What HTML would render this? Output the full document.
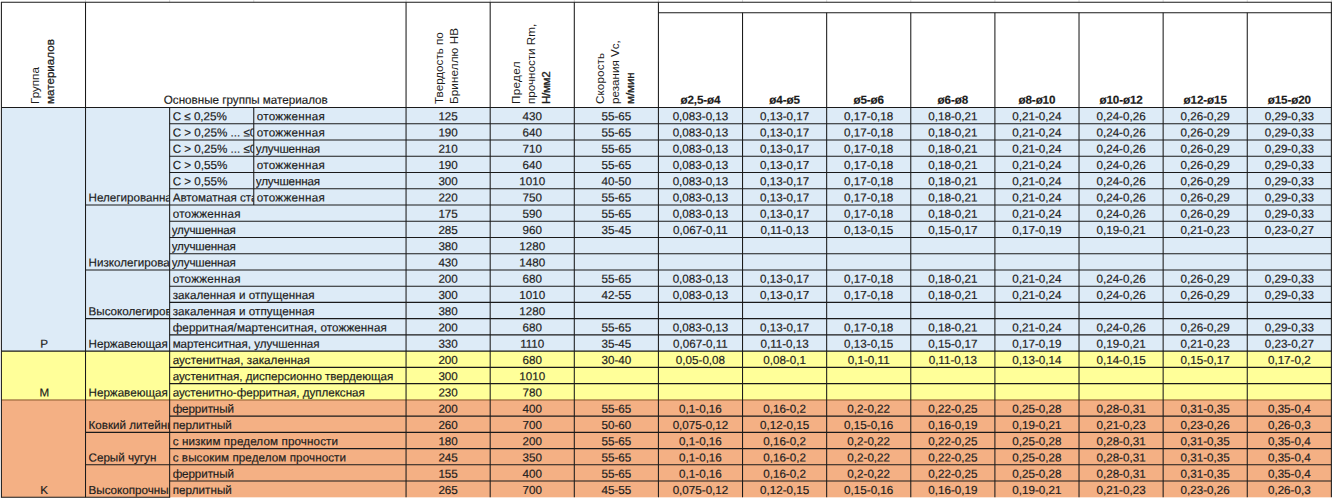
<!DOCTYPE html>
<html lang="ru"><head><meta charset="utf-8"><title>Таблица режимов резания</title>
<style>
html,body{margin:0;padding:0;background:#fff;}
body{width:1334px;height:499px;overflow:hidden;position:relative;font-family:"Liberation Sans",Arial,sans-serif;font-size:11.65px;color:#1c1c1c;}
svg{position:absolute;left:0;top:0;}
.c{position:absolute;left:0;top:0;-webkit-text-stroke:0.18px #1c1c1c;transform-origin:0 0;white-space:nowrap;overflow:hidden;line-height:17.25px;box-sizing:border-box;}
.b{font-weight:bold;letter-spacing:-0.12px;}
.rot{position:absolute;transform-origin:0 0;transform:rotate(-90deg);white-space:nowrap;width:105px;}
.sm2{-webkit-text-stroke:0.28px #1c1c1c;}
.rl{height:15.0px;line-height:15.0px;}
.sm{letter-spacing:-0.35px;-webkit-text-stroke:0.32px #1c1c1c;}
</style></head>
<body>
<svg width="1334" height="499" viewBox="0 0 1334 499">
<line x1="85.52" y1="0.00" x2="85.52" y2="2.30" stroke="#d9d9d9" stroke-width="1"/>
<line x1="169.64" y1="0.00" x2="169.64" y2="2.30" stroke="#d9d9d9" stroke-width="1"/>
<line x1="253.76" y1="0.00" x2="253.76" y2="2.30" stroke="#d9d9d9" stroke-width="1"/>
<line x1="406.06" y1="0.00" x2="406.06" y2="2.30" stroke="#d9d9d9" stroke-width="1"/>
<line x1="490.18" y1="0.00" x2="490.18" y2="2.30" stroke="#d9d9d9" stroke-width="1"/>
<line x1="574.30" y1="0.00" x2="574.30" y2="2.30" stroke="#d9d9d9" stroke-width="1"/>
<line x1="658.42" y1="0.00" x2="658.42" y2="2.30" stroke="#d9d9d9" stroke-width="1"/>
<line x1="742.54" y1="0.00" x2="742.54" y2="2.30" stroke="#d9d9d9" stroke-width="1"/>
<line x1="826.66" y1="0.00" x2="826.66" y2="2.30" stroke="#d9d9d9" stroke-width="1"/>
<line x1="910.78" y1="0.00" x2="910.78" y2="2.30" stroke="#d9d9d9" stroke-width="1"/>
<line x1="994.90" y1="0.00" x2="994.90" y2="2.30" stroke="#d9d9d9" stroke-width="1"/>
<line x1="1079.02" y1="0.00" x2="1079.02" y2="2.30" stroke="#d9d9d9" stroke-width="1"/>
<line x1="1163.14" y1="0.00" x2="1163.14" y2="2.30" stroke="#d9d9d9" stroke-width="1"/>
<line x1="1247.26" y1="0.00" x2="1247.26" y2="2.30" stroke="#d9d9d9" stroke-width="1"/>
<line x1="1331.38" y1="0.00" x2="1331.38" y2="2.30" stroke="#d9d9d9" stroke-width="1"/>
<rect x="1.40" y="107.45" width="1329.98" height="243.68" fill="#DDEBF7"/>
<rect x="1.40" y="351.12" width="1329.98" height="48.74" fill="#FFFF99"/>
<rect x="1.40" y="399.86" width="1329.98" height="97.47" fill="#F4B084"/>
<line x1="0.90" y1="2.30" x2="1331.88" y2="2.30" stroke="#1a1a1a" stroke-width="1.05"/>
<line x1="658.42" y1="12.80" x2="1331.38" y2="12.80" stroke="#1a1a1a" stroke-width="1.05"/>
<line x1="1.40" y1="107.45" x2="1331.38" y2="107.45" stroke="#1a1a1a" stroke-width="1.05"/>
<line x1="0.90" y1="497.33" x2="170.14" y2="497.33" stroke="#1a1a1a" stroke-width="1.05"/>
<line x1="169.64" y1="123.70" x2="1331.38" y2="123.70" stroke="#1a1a1a" stroke-width="1.05"/>
<line x1="169.64" y1="139.94" x2="1331.38" y2="139.94" stroke="#1a1a1a" stroke-width="1.05"/>
<line x1="169.64" y1="156.19" x2="1331.38" y2="156.19" stroke="#1a1a1a" stroke-width="1.05"/>
<line x1="169.64" y1="172.43" x2="1331.38" y2="172.43" stroke="#1a1a1a" stroke-width="1.05"/>
<line x1="169.64" y1="188.68" x2="1331.38" y2="188.68" stroke="#1a1a1a" stroke-width="1.05"/>
<line x1="85.52" y1="204.92" x2="1331.38" y2="204.92" stroke="#1a1a1a" stroke-width="1.05"/>
<line x1="169.64" y1="221.17" x2="1331.38" y2="221.17" stroke="#1a1a1a" stroke-width="1.05"/>
<line x1="169.64" y1="237.41" x2="1331.38" y2="237.41" stroke="#1a1a1a" stroke-width="1.05"/>
<line x1="169.64" y1="253.66" x2="1331.38" y2="253.66" stroke="#1a1a1a" stroke-width="1.05"/>
<line x1="85.52" y1="269.90" x2="1331.38" y2="269.90" stroke="#1a1a1a" stroke-width="1.05"/>
<line x1="169.64" y1="286.15" x2="1331.38" y2="286.15" stroke="#1a1a1a" stroke-width="1.05"/>
<line x1="169.64" y1="302.39" x2="1331.38" y2="302.39" stroke="#1a1a1a" stroke-width="1.05"/>
<line x1="85.52" y1="318.63" x2="1331.38" y2="318.63" stroke="#1a1a1a" stroke-width="1.05"/>
<line x1="169.64" y1="334.88" x2="1331.38" y2="334.88" stroke="#1a1a1a" stroke-width="1.05"/>
<line x1="1.40" y1="351.12" x2="1331.38" y2="351.12" stroke="#1a1a1a" stroke-width="1.05"/>
<line x1="169.64" y1="367.37" x2="1331.38" y2="367.37" stroke="#1a1a1a" stroke-width="1.05"/>
<line x1="169.64" y1="383.62" x2="1331.38" y2="383.62" stroke="#1a1a1a" stroke-width="1.05"/>
<line x1="1.40" y1="399.96" x2="1331.38" y2="399.96" stroke="#7a4a1c" stroke-width="0.9"/>
<line x1="169.64" y1="416.11" x2="1331.38" y2="416.11" stroke="#1a1a1a" stroke-width="1.05"/>
<line x1="85.52" y1="432.35" x2="1331.38" y2="432.35" stroke="#1a1a1a" stroke-width="1.05"/>
<line x1="169.64" y1="448.60" x2="1331.38" y2="448.60" stroke="#1a1a1a" stroke-width="1.05"/>
<line x1="85.52" y1="464.84" x2="1331.38" y2="464.84" stroke="#1a1a1a" stroke-width="1.05"/>
<line x1="169.64" y1="481.09" x2="1331.38" y2="481.09" stroke="#1a1a1a" stroke-width="1.05"/>
<line x1="1.40" y1="2.30" x2="1.40" y2="497.33" stroke="#1a1a1a" stroke-width="1.05"/>
<line x1="85.52" y1="2.30" x2="85.52" y2="497.33" stroke="#1a1a1a" stroke-width="1.05"/>
<line x1="169.64" y1="107.45" x2="169.64" y2="497.33" stroke="#1a1a1a" stroke-width="1.05"/>
<line x1="253.76" y1="107.45" x2="253.76" y2="204.92" stroke="#1a1a1a" stroke-width="1.05"/>
<line x1="406.06" y1="2.30" x2="406.06" y2="497.33" stroke="#1a1a1a" stroke-width="1.05"/>
<line x1="490.18" y1="2.30" x2="490.18" y2="497.33" stroke="#1a1a1a" stroke-width="1.05"/>
<line x1="574.30" y1="2.30" x2="574.30" y2="497.33" stroke="#1a1a1a" stroke-width="1.05"/>
<line x1="658.42" y1="2.30" x2="658.42" y2="497.33" stroke="#1a1a1a" stroke-width="1.05"/>
<line x1="742.54" y1="12.80" x2="742.54" y2="497.33" stroke="#1a1a1a" stroke-width="1.05"/>
<line x1="826.66" y1="12.80" x2="826.66" y2="497.33" stroke="#1a1a1a" stroke-width="1.05"/>
<line x1="910.78" y1="12.80" x2="910.78" y2="497.33" stroke="#1a1a1a" stroke-width="1.05"/>
<line x1="994.90" y1="12.80" x2="994.90" y2="497.33" stroke="#1a1a1a" stroke-width="1.05"/>
<line x1="1079.02" y1="12.80" x2="1079.02" y2="497.33" stroke="#1a1a1a" stroke-width="1.05"/>
<line x1="1163.14" y1="12.80" x2="1163.14" y2="497.33" stroke="#1a1a1a" stroke-width="1.05"/>
<line x1="1247.26" y1="12.80" x2="1247.26" y2="497.33" stroke="#1a1a1a" stroke-width="1.05"/>
<line x1="1331.38" y1="2.30" x2="1331.38" y2="497.33" stroke="#1a1a1a" stroke-width="1.05"/>
</svg>
<div class="c " style="transform:translate(172.64px,107.25px) rotate(0.05deg);width:80.62px;height:16.25px;text-align:left;">C ≤ 0,25%</div>
<div class="c " style="transform:translate(256.76px,107.25px) rotate(0.05deg);width:148.30px;height:16.25px;text-align:left;letter-spacing:0.28px;">отожженная</div>
<div class="c " style="transform:translate(406.06px,107.25px) rotate(0.05deg);width:84.12px;height:16.25px;text-align:center;">125</div>
<div class="c " style="transform:translate(490.18px,107.25px) rotate(0.05deg);width:84.12px;height:16.25px;text-align:center;">430</div>
<div class="c " style="transform:translate(574.30px,107.25px) rotate(0.05deg);width:84.12px;height:16.25px;text-align:center;">55-65</div>
<div class="c " style="transform:translate(658.42px,107.25px) rotate(0.05deg);width:84.12px;height:16.25px;text-align:center;">0,083-0,13</div>
<div class="c " style="transform:translate(742.54px,107.25px) rotate(0.05deg);width:84.12px;height:16.25px;text-align:center;">0,13-0,17</div>
<div class="c " style="transform:translate(826.66px,107.25px) rotate(0.05deg);width:84.12px;height:16.25px;text-align:center;">0,17-0,18</div>
<div class="c " style="transform:translate(910.78px,107.25px) rotate(0.05deg);width:84.12px;height:16.25px;text-align:center;">0,18-0,21</div>
<div class="c " style="transform:translate(994.90px,107.25px) rotate(0.05deg);width:84.12px;height:16.25px;text-align:center;">0,21-0,24</div>
<div class="c " style="transform:translate(1079.02px,107.25px) rotate(0.05deg);width:84.12px;height:16.25px;text-align:center;">0,24-0,26</div>
<div class="c " style="transform:translate(1163.14px,107.25px) rotate(0.05deg);width:84.12px;height:16.25px;text-align:center;">0,26-0,29</div>
<div class="c " style="transform:translate(1247.26px,107.25px) rotate(0.05deg);width:84.12px;height:16.25px;text-align:center;">0,29-0,33</div>
<div class="c " style="transform:translate(172.64px,123.50px) rotate(0.05deg);width:80.62px;height:16.25px;text-align:left;">C > 0,25% ... ≤0,55%</div>
<div class="c " style="transform:translate(256.76px,123.50px) rotate(0.05deg);width:148.30px;height:16.25px;text-align:left;letter-spacing:0.28px;">отожженная</div>
<div class="c " style="transform:translate(406.06px,123.50px) rotate(0.05deg);width:84.12px;height:16.25px;text-align:center;">190</div>
<div class="c " style="transform:translate(490.18px,123.50px) rotate(0.05deg);width:84.12px;height:16.25px;text-align:center;">640</div>
<div class="c " style="transform:translate(574.30px,123.50px) rotate(0.05deg);width:84.12px;height:16.25px;text-align:center;">55-65</div>
<div class="c " style="transform:translate(658.42px,123.50px) rotate(0.05deg);width:84.12px;height:16.25px;text-align:center;">0,083-0,13</div>
<div class="c " style="transform:translate(742.54px,123.50px) rotate(0.05deg);width:84.12px;height:16.25px;text-align:center;">0,13-0,17</div>
<div class="c " style="transform:translate(826.66px,123.50px) rotate(0.05deg);width:84.12px;height:16.25px;text-align:center;">0,17-0,18</div>
<div class="c " style="transform:translate(910.78px,123.50px) rotate(0.05deg);width:84.12px;height:16.25px;text-align:center;">0,18-0,21</div>
<div class="c " style="transform:translate(994.90px,123.50px) rotate(0.05deg);width:84.12px;height:16.25px;text-align:center;">0,21-0,24</div>
<div class="c " style="transform:translate(1079.02px,123.50px) rotate(0.05deg);width:84.12px;height:16.25px;text-align:center;">0,24-0,26</div>
<div class="c " style="transform:translate(1163.14px,123.50px) rotate(0.05deg);width:84.12px;height:16.25px;text-align:center;">0,26-0,29</div>
<div class="c " style="transform:translate(1247.26px,123.50px) rotate(0.05deg);width:84.12px;height:16.25px;text-align:center;">0,29-0,33</div>
<div class="c " style="transform:translate(172.64px,139.74px) rotate(0.05deg);width:80.62px;height:16.25px;text-align:left;">C > 0,25% ... ≤0,55%</div>
<div class="c " style="transform:translate(255.86px,139.74px) rotate(0.05deg);width:149.20px;height:16.25px;text-align:left;letter-spacing:-0.17px;">улучшенная</div>
<div class="c " style="transform:translate(406.06px,139.74px) rotate(0.05deg);width:84.12px;height:16.25px;text-align:center;">210</div>
<div class="c " style="transform:translate(490.18px,139.74px) rotate(0.05deg);width:84.12px;height:16.25px;text-align:center;">710</div>
<div class="c " style="transform:translate(574.30px,139.74px) rotate(0.05deg);width:84.12px;height:16.25px;text-align:center;">55-65</div>
<div class="c " style="transform:translate(658.42px,139.74px) rotate(0.05deg);width:84.12px;height:16.25px;text-align:center;">0,083-0,13</div>
<div class="c " style="transform:translate(742.54px,139.74px) rotate(0.05deg);width:84.12px;height:16.25px;text-align:center;">0,13-0,17</div>
<div class="c " style="transform:translate(826.66px,139.74px) rotate(0.05deg);width:84.12px;height:16.25px;text-align:center;">0,17-0,18</div>
<div class="c " style="transform:translate(910.78px,139.74px) rotate(0.05deg);width:84.12px;height:16.25px;text-align:center;">0,18-0,21</div>
<div class="c " style="transform:translate(994.90px,139.74px) rotate(0.05deg);width:84.12px;height:16.25px;text-align:center;">0,21-0,24</div>
<div class="c " style="transform:translate(1079.02px,139.74px) rotate(0.05deg);width:84.12px;height:16.25px;text-align:center;">0,24-0,26</div>
<div class="c " style="transform:translate(1163.14px,139.74px) rotate(0.05deg);width:84.12px;height:16.25px;text-align:center;">0,26-0,29</div>
<div class="c " style="transform:translate(1247.26px,139.74px) rotate(0.05deg);width:84.12px;height:16.25px;text-align:center;">0,29-0,33</div>
<div class="c " style="transform:translate(172.64px,155.99px) rotate(0.05deg);width:80.62px;height:16.25px;text-align:left;">C > 0,55%</div>
<div class="c " style="transform:translate(256.76px,155.99px) rotate(0.05deg);width:148.30px;height:16.25px;text-align:left;letter-spacing:0.28px;">отожженная</div>
<div class="c " style="transform:translate(406.06px,155.99px) rotate(0.05deg);width:84.12px;height:16.25px;text-align:center;">190</div>
<div class="c " style="transform:translate(490.18px,155.99px) rotate(0.05deg);width:84.12px;height:16.25px;text-align:center;">640</div>
<div class="c " style="transform:translate(574.30px,155.99px) rotate(0.05deg);width:84.12px;height:16.25px;text-align:center;">55-65</div>
<div class="c " style="transform:translate(658.42px,155.99px) rotate(0.05deg);width:84.12px;height:16.25px;text-align:center;">0,083-0,13</div>
<div class="c " style="transform:translate(742.54px,155.99px) rotate(0.05deg);width:84.12px;height:16.25px;text-align:center;">0,13-0,17</div>
<div class="c " style="transform:translate(826.66px,155.99px) rotate(0.05deg);width:84.12px;height:16.25px;text-align:center;">0,17-0,18</div>
<div class="c " style="transform:translate(910.78px,155.99px) rotate(0.05deg);width:84.12px;height:16.25px;text-align:center;">0,18-0,21</div>
<div class="c " style="transform:translate(994.90px,155.99px) rotate(0.05deg);width:84.12px;height:16.25px;text-align:center;">0,21-0,24</div>
<div class="c " style="transform:translate(1079.02px,155.99px) rotate(0.05deg);width:84.12px;height:16.25px;text-align:center;">0,24-0,26</div>
<div class="c " style="transform:translate(1163.14px,155.99px) rotate(0.05deg);width:84.12px;height:16.25px;text-align:center;">0,26-0,29</div>
<div class="c " style="transform:translate(1247.26px,155.99px) rotate(0.05deg);width:84.12px;height:16.25px;text-align:center;">0,29-0,33</div>
<div class="c " style="transform:translate(172.64px,172.23px) rotate(0.05deg);width:80.62px;height:16.25px;text-align:left;">C > 0,55%</div>
<div class="c " style="transform:translate(255.86px,172.23px) rotate(0.05deg);width:149.20px;height:16.25px;text-align:left;letter-spacing:-0.17px;">улучшенная</div>
<div class="c " style="transform:translate(406.06px,172.23px) rotate(0.05deg);width:84.12px;height:16.25px;text-align:center;">300</div>
<div class="c " style="transform:translate(490.18px,172.23px) rotate(0.05deg);width:84.12px;height:16.25px;text-align:center;">1010</div>
<div class="c " style="transform:translate(574.30px,172.23px) rotate(0.05deg);width:84.12px;height:16.25px;text-align:center;">40-50</div>
<div class="c " style="transform:translate(658.42px,172.23px) rotate(0.05deg);width:84.12px;height:16.25px;text-align:center;">0,083-0,13</div>
<div class="c " style="transform:translate(742.54px,172.23px) rotate(0.05deg);width:84.12px;height:16.25px;text-align:center;">0,13-0,17</div>
<div class="c " style="transform:translate(826.66px,172.23px) rotate(0.05deg);width:84.12px;height:16.25px;text-align:center;">0,17-0,18</div>
<div class="c " style="transform:translate(910.78px,172.23px) rotate(0.05deg);width:84.12px;height:16.25px;text-align:center;">0,18-0,21</div>
<div class="c " style="transform:translate(994.90px,172.23px) rotate(0.05deg);width:84.12px;height:16.25px;text-align:center;">0,21-0,24</div>
<div class="c " style="transform:translate(1079.02px,172.23px) rotate(0.05deg);width:84.12px;height:16.25px;text-align:center;">0,24-0,26</div>
<div class="c " style="transform:translate(1163.14px,172.23px) rotate(0.05deg);width:84.12px;height:16.25px;text-align:center;">0,26-0,29</div>
<div class="c " style="transform:translate(1247.26px,172.23px) rotate(0.05deg);width:84.12px;height:16.25px;text-align:center;">0,29-0,33</div>
<div class="c " style="transform:translate(172.64px,188.48px) rotate(0.05deg);width:80.62px;height:16.25px;text-align:left;">Автоматная сталь</div>
<div class="c " style="transform:translate(256.76px,188.48px) rotate(0.05deg);width:148.30px;height:16.25px;text-align:left;letter-spacing:0.28px;">отожженная</div>
<div class="c " style="transform:translate(406.06px,188.48px) rotate(0.05deg);width:84.12px;height:16.25px;text-align:center;">220</div>
<div class="c " style="transform:translate(490.18px,188.48px) rotate(0.05deg);width:84.12px;height:16.25px;text-align:center;">750</div>
<div class="c " style="transform:translate(574.30px,188.48px) rotate(0.05deg);width:84.12px;height:16.25px;text-align:center;">55-65</div>
<div class="c " style="transform:translate(658.42px,188.48px) rotate(0.05deg);width:84.12px;height:16.25px;text-align:center;">0,083-0,13</div>
<div class="c " style="transform:translate(742.54px,188.48px) rotate(0.05deg);width:84.12px;height:16.25px;text-align:center;">0,13-0,17</div>
<div class="c " style="transform:translate(826.66px,188.48px) rotate(0.05deg);width:84.12px;height:16.25px;text-align:center;">0,17-0,18</div>
<div class="c " style="transform:translate(910.78px,188.48px) rotate(0.05deg);width:84.12px;height:16.25px;text-align:center;">0,18-0,21</div>
<div class="c " style="transform:translate(994.90px,188.48px) rotate(0.05deg);width:84.12px;height:16.25px;text-align:center;">0,21-0,24</div>
<div class="c " style="transform:translate(1079.02px,188.48px) rotate(0.05deg);width:84.12px;height:16.25px;text-align:center;">0,24-0,26</div>
<div class="c " style="transform:translate(1163.14px,188.48px) rotate(0.05deg);width:84.12px;height:16.25px;text-align:center;">0,26-0,29</div>
<div class="c " style="transform:translate(1247.26px,188.48px) rotate(0.05deg);width:84.12px;height:16.25px;text-align:center;">0,29-0,33</div>
<div class="c " style="transform:translate(172.64px,204.72px) rotate(0.05deg);width:232.42px;height:16.25px;text-align:left;letter-spacing:0.28px;">отожженная</div>
<div class="c " style="transform:translate(406.06px,204.72px) rotate(0.05deg);width:84.12px;height:16.25px;text-align:center;">175</div>
<div class="c " style="transform:translate(490.18px,204.72px) rotate(0.05deg);width:84.12px;height:16.25px;text-align:center;">590</div>
<div class="c " style="transform:translate(574.30px,204.72px) rotate(0.05deg);width:84.12px;height:16.25px;text-align:center;">55-65</div>
<div class="c " style="transform:translate(658.42px,204.72px) rotate(0.05deg);width:84.12px;height:16.25px;text-align:center;">0,083-0,13</div>
<div class="c " style="transform:translate(742.54px,204.72px) rotate(0.05deg);width:84.12px;height:16.25px;text-align:center;">0,13-0,17</div>
<div class="c " style="transform:translate(826.66px,204.72px) rotate(0.05deg);width:84.12px;height:16.25px;text-align:center;">0,17-0,18</div>
<div class="c " style="transform:translate(910.78px,204.72px) rotate(0.05deg);width:84.12px;height:16.25px;text-align:center;">0,18-0,21</div>
<div class="c " style="transform:translate(994.90px,204.72px) rotate(0.05deg);width:84.12px;height:16.25px;text-align:center;">0,21-0,24</div>
<div class="c " style="transform:translate(1079.02px,204.72px) rotate(0.05deg);width:84.12px;height:16.25px;text-align:center;">0,24-0,26</div>
<div class="c " style="transform:translate(1163.14px,204.72px) rotate(0.05deg);width:84.12px;height:16.25px;text-align:center;">0,26-0,29</div>
<div class="c " style="transform:translate(1247.26px,204.72px) rotate(0.05deg);width:84.12px;height:16.25px;text-align:center;">0,29-0,33</div>
<div class="c " style="transform:translate(171.74px,220.97px) rotate(0.05deg);width:233.32px;height:16.25px;text-align:left;letter-spacing:-0.17px;">улучшенная</div>
<div class="c " style="transform:translate(406.06px,220.97px) rotate(0.05deg);width:84.12px;height:16.25px;text-align:center;">285</div>
<div class="c " style="transform:translate(490.18px,220.97px) rotate(0.05deg);width:84.12px;height:16.25px;text-align:center;">960</div>
<div class="c " style="transform:translate(574.30px,220.97px) rotate(0.05deg);width:84.12px;height:16.25px;text-align:center;">35-45</div>
<div class="c " style="transform:translate(658.42px,220.97px) rotate(0.05deg);width:84.12px;height:16.25px;text-align:center;">0,067-0,11</div>
<div class="c " style="transform:translate(742.54px,220.97px) rotate(0.05deg);width:84.12px;height:16.25px;text-align:center;">0,11-0,13</div>
<div class="c " style="transform:translate(826.66px,220.97px) rotate(0.05deg);width:84.12px;height:16.25px;text-align:center;">0,13-0,15</div>
<div class="c " style="transform:translate(910.78px,220.97px) rotate(0.05deg);width:84.12px;height:16.25px;text-align:center;">0,15-0,17</div>
<div class="c " style="transform:translate(994.90px,220.97px) rotate(0.05deg);width:84.12px;height:16.25px;text-align:center;">0,17-0,19</div>
<div class="c " style="transform:translate(1079.02px,220.97px) rotate(0.05deg);width:84.12px;height:16.25px;text-align:center;">0,19-0,21</div>
<div class="c " style="transform:translate(1163.14px,220.97px) rotate(0.05deg);width:84.12px;height:16.25px;text-align:center;">0,21-0,23</div>
<div class="c " style="transform:translate(1247.26px,220.97px) rotate(0.05deg);width:84.12px;height:16.25px;text-align:center;">0,23-0,27</div>
<div class="c " style="transform:translate(171.74px,237.21px) rotate(0.05deg);width:233.32px;height:16.25px;text-align:left;letter-spacing:-0.17px;">улучшенная</div>
<div class="c " style="transform:translate(406.06px,237.21px) rotate(0.05deg);width:84.12px;height:16.25px;text-align:center;">380</div>
<div class="c " style="transform:translate(490.18px,237.21px) rotate(0.05deg);width:84.12px;height:16.25px;text-align:center;">1280</div>
<div class="c " style="transform:translate(171.74px,253.46px) rotate(0.05deg);width:233.32px;height:16.25px;text-align:left;letter-spacing:-0.17px;">улучшенная</div>
<div class="c " style="transform:translate(406.06px,253.46px) rotate(0.05deg);width:84.12px;height:16.25px;text-align:center;">430</div>
<div class="c " style="transform:translate(490.18px,253.46px) rotate(0.05deg);width:84.12px;height:16.25px;text-align:center;">1480</div>
<div class="c " style="transform:translate(172.64px,269.70px) rotate(0.05deg);width:232.42px;height:16.25px;text-align:left;letter-spacing:0.28px;">отожженная</div>
<div class="c " style="transform:translate(406.06px,269.70px) rotate(0.05deg);width:84.12px;height:16.25px;text-align:center;">200</div>
<div class="c " style="transform:translate(490.18px,269.70px) rotate(0.05deg);width:84.12px;height:16.25px;text-align:center;">680</div>
<div class="c " style="transform:translate(574.30px,269.70px) rotate(0.05deg);width:84.12px;height:16.25px;text-align:center;">55-65</div>
<div class="c " style="transform:translate(658.42px,269.70px) rotate(0.05deg);width:84.12px;height:16.25px;text-align:center;">0,083-0,13</div>
<div class="c " style="transform:translate(742.54px,269.70px) rotate(0.05deg);width:84.12px;height:16.25px;text-align:center;">0,13-0,17</div>
<div class="c " style="transform:translate(826.66px,269.70px) rotate(0.05deg);width:84.12px;height:16.25px;text-align:center;">0,17-0,18</div>
<div class="c " style="transform:translate(910.78px,269.70px) rotate(0.05deg);width:84.12px;height:16.25px;text-align:center;">0,18-0,21</div>
<div class="c " style="transform:translate(994.90px,269.70px) rotate(0.05deg);width:84.12px;height:16.25px;text-align:center;">0,21-0,24</div>
<div class="c " style="transform:translate(1079.02px,269.70px) rotate(0.05deg);width:84.12px;height:16.25px;text-align:center;">0,24-0,26</div>
<div class="c " style="transform:translate(1163.14px,269.70px) rotate(0.05deg);width:84.12px;height:16.25px;text-align:center;">0,26-0,29</div>
<div class="c " style="transform:translate(1247.26px,269.70px) rotate(0.05deg);width:84.12px;height:16.25px;text-align:center;">0,29-0,33</div>
<div class="c " style="transform:translate(172.64px,285.95px) rotate(0.05deg);width:232.42px;height:16.25px;text-align:left;letter-spacing:0.05px;">закаленная и отпущенная</div>
<div class="c " style="transform:translate(406.06px,285.95px) rotate(0.05deg);width:84.12px;height:16.25px;text-align:center;">300</div>
<div class="c " style="transform:translate(490.18px,285.95px) rotate(0.05deg);width:84.12px;height:16.25px;text-align:center;">1010</div>
<div class="c " style="transform:translate(574.30px,285.95px) rotate(0.05deg);width:84.12px;height:16.25px;text-align:center;">42-55</div>
<div class="c " style="transform:translate(658.42px,285.95px) rotate(0.05deg);width:84.12px;height:16.25px;text-align:center;">0,083-0,13</div>
<div class="c " style="transform:translate(742.54px,285.95px) rotate(0.05deg);width:84.12px;height:16.25px;text-align:center;">0,13-0,17</div>
<div class="c " style="transform:translate(826.66px,285.95px) rotate(0.05deg);width:84.12px;height:16.25px;text-align:center;">0,17-0,18</div>
<div class="c " style="transform:translate(910.78px,285.95px) rotate(0.05deg);width:84.12px;height:16.25px;text-align:center;">0,18-0,21</div>
<div class="c " style="transform:translate(994.90px,285.95px) rotate(0.05deg);width:84.12px;height:16.25px;text-align:center;">0,21-0,24</div>
<div class="c " style="transform:translate(1079.02px,285.95px) rotate(0.05deg);width:84.12px;height:16.25px;text-align:center;">0,24-0,26</div>
<div class="c " style="transform:translate(1163.14px,285.95px) rotate(0.05deg);width:84.12px;height:16.25px;text-align:center;">0,26-0,29</div>
<div class="c " style="transform:translate(1247.26px,285.95px) rotate(0.05deg);width:84.12px;height:16.25px;text-align:center;">0,29-0,33</div>
<div class="c " style="transform:translate(172.64px,302.19px) rotate(0.05deg);width:232.42px;height:16.25px;text-align:left;letter-spacing:0.05px;">закаленная и отпущенная</div>
<div class="c " style="transform:translate(406.06px,302.19px) rotate(0.05deg);width:84.12px;height:16.25px;text-align:center;">380</div>
<div class="c " style="transform:translate(490.18px,302.19px) rotate(0.05deg);width:84.12px;height:16.25px;text-align:center;">1280</div>
<div class="c " style="transform:translate(172.64px,318.44px) rotate(0.05deg);width:232.42px;height:16.25px;text-align:left;letter-spacing:0.1px;">ферритная/мартенситная, отожженная</div>
<div class="c " style="transform:translate(406.06px,318.44px) rotate(0.05deg);width:84.12px;height:16.25px;text-align:center;">200</div>
<div class="c " style="transform:translate(490.18px,318.44px) rotate(0.05deg);width:84.12px;height:16.25px;text-align:center;">680</div>
<div class="c " style="transform:translate(574.30px,318.44px) rotate(0.05deg);width:84.12px;height:16.25px;text-align:center;">55-65</div>
<div class="c " style="transform:translate(658.42px,318.44px) rotate(0.05deg);width:84.12px;height:16.25px;text-align:center;">0,083-0,13</div>
<div class="c " style="transform:translate(742.54px,318.44px) rotate(0.05deg);width:84.12px;height:16.25px;text-align:center;">0,13-0,17</div>
<div class="c " style="transform:translate(826.66px,318.44px) rotate(0.05deg);width:84.12px;height:16.25px;text-align:center;">0,17-0,18</div>
<div class="c " style="transform:translate(910.78px,318.44px) rotate(0.05deg);width:84.12px;height:16.25px;text-align:center;">0,18-0,21</div>
<div class="c " style="transform:translate(994.90px,318.44px) rotate(0.05deg);width:84.12px;height:16.25px;text-align:center;">0,21-0,24</div>
<div class="c " style="transform:translate(1079.02px,318.44px) rotate(0.05deg);width:84.12px;height:16.25px;text-align:center;">0,24-0,26</div>
<div class="c " style="transform:translate(1163.14px,318.44px) rotate(0.05deg);width:84.12px;height:16.25px;text-align:center;">0,26-0,29</div>
<div class="c " style="transform:translate(1247.26px,318.44px) rotate(0.05deg);width:84.12px;height:16.25px;text-align:center;">0,29-0,33</div>
<div class="c " style="transform:translate(172.64px,334.68px) rotate(0.05deg);width:232.42px;height:16.25px;text-align:left;letter-spacing:-0.04px;">мартенситная, улучшенная</div>
<div class="c " style="transform:translate(406.06px,334.68px) rotate(0.05deg);width:84.12px;height:16.25px;text-align:center;">330</div>
<div class="c " style="transform:translate(490.18px,334.68px) rotate(0.05deg);width:84.12px;height:16.25px;text-align:center;">1110</div>
<div class="c " style="transform:translate(574.30px,334.68px) rotate(0.05deg);width:84.12px;height:16.25px;text-align:center;">35-45</div>
<div class="c " style="transform:translate(658.42px,334.68px) rotate(0.05deg);width:84.12px;height:16.25px;text-align:center;">0,067-0,11</div>
<div class="c " style="transform:translate(742.54px,334.68px) rotate(0.05deg);width:84.12px;height:16.25px;text-align:center;">0,11-0,13</div>
<div class="c " style="transform:translate(826.66px,334.68px) rotate(0.05deg);width:84.12px;height:16.25px;text-align:center;">0,13-0,15</div>
<div class="c " style="transform:translate(910.78px,334.68px) rotate(0.05deg);width:84.12px;height:16.25px;text-align:center;">0,15-0,17</div>
<div class="c " style="transform:translate(994.90px,334.68px) rotate(0.05deg);width:84.12px;height:16.25px;text-align:center;">0,17-0,19</div>
<div class="c " style="transform:translate(1079.02px,334.68px) rotate(0.05deg);width:84.12px;height:16.25px;text-align:center;">0,19-0,21</div>
<div class="c " style="transform:translate(1163.14px,334.68px) rotate(0.05deg);width:84.12px;height:16.25px;text-align:center;">0,21-0,23</div>
<div class="c " style="transform:translate(1247.26px,334.68px) rotate(0.05deg);width:84.12px;height:16.25px;text-align:center;">0,23-0,27</div>
<div class="c " style="transform:translate(172.64px,350.93px) rotate(0.05deg);width:232.42px;height:16.25px;text-align:left;letter-spacing:0.05px;">аустенитная, закаленная</div>
<div class="c " style="transform:translate(406.06px,350.93px) rotate(0.05deg);width:84.12px;height:16.25px;text-align:center;">200</div>
<div class="c " style="transform:translate(490.18px,350.93px) rotate(0.05deg);width:84.12px;height:16.25px;text-align:center;">680</div>
<div class="c " style="transform:translate(574.30px,350.93px) rotate(0.05deg);width:84.12px;height:16.25px;text-align:center;">30-40</div>
<div class="c " style="transform:translate(658.42px,350.93px) rotate(0.05deg);width:84.12px;height:16.25px;text-align:center;">0,05-0,08</div>
<div class="c " style="transform:translate(742.54px,350.93px) rotate(0.05deg);width:84.12px;height:16.25px;text-align:center;">0,08-0,1</div>
<div class="c " style="transform:translate(826.66px,350.93px) rotate(0.05deg);width:84.12px;height:16.25px;text-align:center;">0,1-0,11</div>
<div class="c " style="transform:translate(910.78px,350.93px) rotate(0.05deg);width:84.12px;height:16.25px;text-align:center;">0,11-0,13</div>
<div class="c " style="transform:translate(994.90px,350.93px) rotate(0.05deg);width:84.12px;height:16.25px;text-align:center;">0,13-0,14</div>
<div class="c " style="transform:translate(1079.02px,350.93px) rotate(0.05deg);width:84.12px;height:16.25px;text-align:center;">0,14-0,15</div>
<div class="c " style="transform:translate(1163.14px,350.93px) rotate(0.05deg);width:84.12px;height:16.25px;text-align:center;">0,15-0,17</div>
<div class="c " style="transform:translate(1247.26px,350.93px) rotate(0.05deg);width:84.12px;height:16.25px;text-align:center;">0,17-0,2</div>
<div class="c " style="transform:translate(172.64px,367.17px) rotate(0.05deg);width:232.42px;height:16.25px;text-align:left;letter-spacing:-0.03px;">аустенитная, дисперсионно твердеющая</div>
<div class="c " style="transform:translate(406.06px,367.17px) rotate(0.05deg);width:84.12px;height:16.25px;text-align:center;">300</div>
<div class="c " style="transform:translate(490.18px,367.17px) rotate(0.05deg);width:84.12px;height:16.25px;text-align:center;">1010</div>
<div class="c " style="transform:translate(172.64px,383.42px) rotate(0.05deg);width:232.42px;height:16.25px;text-align:left;letter-spacing:-0.045px;">аустенитно-ферритная, дуплексная</div>
<div class="c " style="transform:translate(406.06px,383.42px) rotate(0.05deg);width:84.12px;height:16.25px;text-align:center;">230</div>
<div class="c " style="transform:translate(490.18px,383.42px) rotate(0.05deg);width:84.12px;height:16.25px;text-align:center;">780</div>
<div class="c " style="transform:translate(172.64px,399.66px) rotate(0.05deg);width:232.42px;height:16.25px;text-align:left;letter-spacing:-0.1px;">ферритный</div>
<div class="c " style="transform:translate(406.06px,399.66px) rotate(0.05deg);width:84.12px;height:16.25px;text-align:center;">200</div>
<div class="c " style="transform:translate(490.18px,399.66px) rotate(0.05deg);width:84.12px;height:16.25px;text-align:center;">400</div>
<div class="c " style="transform:translate(574.30px,399.66px) rotate(0.05deg);width:84.12px;height:16.25px;text-align:center;">55-65</div>
<div class="c " style="transform:translate(658.42px,399.66px) rotate(0.05deg);width:84.12px;height:16.25px;text-align:center;">0,1-0,16</div>
<div class="c " style="transform:translate(742.54px,399.66px) rotate(0.05deg);width:84.12px;height:16.25px;text-align:center;">0,16-0,2</div>
<div class="c " style="transform:translate(826.66px,399.66px) rotate(0.05deg);width:84.12px;height:16.25px;text-align:center;">0,2-0,22</div>
<div class="c " style="transform:translate(910.78px,399.66px) rotate(0.05deg);width:84.12px;height:16.25px;text-align:center;">0,22-0,25</div>
<div class="c " style="transform:translate(994.90px,399.66px) rotate(0.05deg);width:84.12px;height:16.25px;text-align:center;">0,25-0,28</div>
<div class="c " style="transform:translate(1079.02px,399.66px) rotate(0.05deg);width:84.12px;height:16.25px;text-align:center;">0,28-0,31</div>
<div class="c " style="transform:translate(1163.14px,399.66px) rotate(0.05deg);width:84.12px;height:16.25px;text-align:center;">0,31-0,35</div>
<div class="c " style="transform:translate(1247.26px,399.66px) rotate(0.05deg);width:84.12px;height:16.25px;text-align:center;">0,35-0,4</div>
<div class="c " style="transform:translate(172.64px,415.91px) rotate(0.05deg);width:232.42px;height:16.25px;text-align:left;letter-spacing:0.05px;">перлитный</div>
<div class="c " style="transform:translate(406.06px,415.91px) rotate(0.05deg);width:84.12px;height:16.25px;text-align:center;">260</div>
<div class="c " style="transform:translate(490.18px,415.91px) rotate(0.05deg);width:84.12px;height:16.25px;text-align:center;">700</div>
<div class="c " style="transform:translate(574.30px,415.91px) rotate(0.05deg);width:84.12px;height:16.25px;text-align:center;">50-60</div>
<div class="c " style="transform:translate(658.42px,415.91px) rotate(0.05deg);width:84.12px;height:16.25px;text-align:center;">0,075-0,12</div>
<div class="c " style="transform:translate(742.54px,415.91px) rotate(0.05deg);width:84.12px;height:16.25px;text-align:center;">0,12-0,15</div>
<div class="c " style="transform:translate(826.66px,415.91px) rotate(0.05deg);width:84.12px;height:16.25px;text-align:center;">0,15-0,16</div>
<div class="c " style="transform:translate(910.78px,415.91px) rotate(0.05deg);width:84.12px;height:16.25px;text-align:center;">0,16-0,19</div>
<div class="c " style="transform:translate(994.90px,415.91px) rotate(0.05deg);width:84.12px;height:16.25px;text-align:center;">0,19-0,21</div>
<div class="c " style="transform:translate(1079.02px,415.91px) rotate(0.05deg);width:84.12px;height:16.25px;text-align:center;">0,21-0,23</div>
<div class="c " style="transform:translate(1163.14px,415.91px) rotate(0.05deg);width:84.12px;height:16.25px;text-align:center;">0,23-0,26</div>
<div class="c " style="transform:translate(1247.26px,415.91px) rotate(0.05deg);width:84.12px;height:16.25px;text-align:center;">0,26-0,3</div>
<div class="c " style="transform:translate(172.64px,432.15px) rotate(0.05deg);width:232.42px;height:16.25px;text-align:left;letter-spacing:0.12px;">с низким пределом прочности</div>
<div class="c " style="transform:translate(406.06px,432.15px) rotate(0.05deg);width:84.12px;height:16.25px;text-align:center;">180</div>
<div class="c " style="transform:translate(490.18px,432.15px) rotate(0.05deg);width:84.12px;height:16.25px;text-align:center;">200</div>
<div class="c " style="transform:translate(574.30px,432.15px) rotate(0.05deg);width:84.12px;height:16.25px;text-align:center;">55-65</div>
<div class="c " style="transform:translate(658.42px,432.15px) rotate(0.05deg);width:84.12px;height:16.25px;text-align:center;">0,1-0,16</div>
<div class="c " style="transform:translate(742.54px,432.15px) rotate(0.05deg);width:84.12px;height:16.25px;text-align:center;">0,16-0,2</div>
<div class="c " style="transform:translate(826.66px,432.15px) rotate(0.05deg);width:84.12px;height:16.25px;text-align:center;">0,2-0,22</div>
<div class="c " style="transform:translate(910.78px,432.15px) rotate(0.05deg);width:84.12px;height:16.25px;text-align:center;">0,22-0,25</div>
<div class="c " style="transform:translate(994.90px,432.15px) rotate(0.05deg);width:84.12px;height:16.25px;text-align:center;">0,25-0,28</div>
<div class="c " style="transform:translate(1079.02px,432.15px) rotate(0.05deg);width:84.12px;height:16.25px;text-align:center;">0,28-0,31</div>
<div class="c " style="transform:translate(1163.14px,432.15px) rotate(0.05deg);width:84.12px;height:16.25px;text-align:center;">0,31-0,35</div>
<div class="c " style="transform:translate(1247.26px,432.15px) rotate(0.05deg);width:84.12px;height:16.25px;text-align:center;">0,35-0,4</div>
<div class="c " style="transform:translate(172.64px,448.40px) rotate(0.05deg);width:232.42px;height:16.25px;text-align:left;letter-spacing:0.09px;">с высоким пределом прочности</div>
<div class="c " style="transform:translate(406.06px,448.40px) rotate(0.05deg);width:84.12px;height:16.25px;text-align:center;">245</div>
<div class="c " style="transform:translate(490.18px,448.40px) rotate(0.05deg);width:84.12px;height:16.25px;text-align:center;">350</div>
<div class="c " style="transform:translate(574.30px,448.40px) rotate(0.05deg);width:84.12px;height:16.25px;text-align:center;">55-65</div>
<div class="c " style="transform:translate(658.42px,448.40px) rotate(0.05deg);width:84.12px;height:16.25px;text-align:center;">0,1-0,16</div>
<div class="c " style="transform:translate(742.54px,448.40px) rotate(0.05deg);width:84.12px;height:16.25px;text-align:center;">0,16-0,2</div>
<div class="c " style="transform:translate(826.66px,448.40px) rotate(0.05deg);width:84.12px;height:16.25px;text-align:center;">0,2-0,22</div>
<div class="c " style="transform:translate(910.78px,448.40px) rotate(0.05deg);width:84.12px;height:16.25px;text-align:center;">0,22-0,25</div>
<div class="c " style="transform:translate(994.90px,448.40px) rotate(0.05deg);width:84.12px;height:16.25px;text-align:center;">0,25-0,28</div>
<div class="c " style="transform:translate(1079.02px,448.40px) rotate(0.05deg);width:84.12px;height:16.25px;text-align:center;">0,28-0,31</div>
<div class="c " style="transform:translate(1163.14px,448.40px) rotate(0.05deg);width:84.12px;height:16.25px;text-align:center;">0,31-0,35</div>
<div class="c " style="transform:translate(1247.26px,448.40px) rotate(0.05deg);width:84.12px;height:16.25px;text-align:center;">0,35-0,4</div>
<div class="c " style="transform:translate(172.64px,464.64px) rotate(0.05deg);width:232.42px;height:16.25px;text-align:left;letter-spacing:-0.1px;">ферритный</div>
<div class="c " style="transform:translate(406.06px,464.64px) rotate(0.05deg);width:84.12px;height:16.25px;text-align:center;">155</div>
<div class="c " style="transform:translate(490.18px,464.64px) rotate(0.05deg);width:84.12px;height:16.25px;text-align:center;">400</div>
<div class="c " style="transform:translate(574.30px,464.64px) rotate(0.05deg);width:84.12px;height:16.25px;text-align:center;">55-65</div>
<div class="c " style="transform:translate(658.42px,464.64px) rotate(0.05deg);width:84.12px;height:16.25px;text-align:center;">0,1-0,16</div>
<div class="c " style="transform:translate(742.54px,464.64px) rotate(0.05deg);width:84.12px;height:16.25px;text-align:center;">0,16-0,2</div>
<div class="c " style="transform:translate(826.66px,464.64px) rotate(0.05deg);width:84.12px;height:16.25px;text-align:center;">0,2-0,22</div>
<div class="c " style="transform:translate(910.78px,464.64px) rotate(0.05deg);width:84.12px;height:16.25px;text-align:center;">0,22-0,25</div>
<div class="c " style="transform:translate(994.90px,464.64px) rotate(0.05deg);width:84.12px;height:16.25px;text-align:center;">0,25-0,28</div>
<div class="c " style="transform:translate(1079.02px,464.64px) rotate(0.05deg);width:84.12px;height:16.25px;text-align:center;">0,28-0,31</div>
<div class="c " style="transform:translate(1163.14px,464.64px) rotate(0.05deg);width:84.12px;height:16.25px;text-align:center;">0,31-0,35</div>
<div class="c " style="transform:translate(1247.26px,464.64px) rotate(0.05deg);width:84.12px;height:16.25px;text-align:center;">0,35-0,4</div>
<div class="c " style="transform:translate(172.64px,480.89px) rotate(0.05deg);width:232.42px;height:16.25px;text-align:left;letter-spacing:0.05px;">перлитный</div>
<div class="c " style="transform:translate(406.06px,480.89px) rotate(0.05deg);width:84.12px;height:16.25px;text-align:center;">265</div>
<div class="c " style="transform:translate(490.18px,480.89px) rotate(0.05deg);width:84.12px;height:16.25px;text-align:center;">700</div>
<div class="c " style="transform:translate(574.30px,480.89px) rotate(0.05deg);width:84.12px;height:16.25px;text-align:center;">45-55</div>
<div class="c " style="transform:translate(658.42px,480.89px) rotate(0.05deg);width:84.12px;height:16.25px;text-align:center;">0,075-0,12</div>
<div class="c " style="transform:translate(742.54px,480.89px) rotate(0.05deg);width:84.12px;height:16.25px;text-align:center;">0,12-0,15</div>
<div class="c " style="transform:translate(826.66px,480.89px) rotate(0.05deg);width:84.12px;height:16.25px;text-align:center;">0,15-0,16</div>
<div class="c " style="transform:translate(910.78px,480.89px) rotate(0.05deg);width:84.12px;height:16.25px;text-align:center;">0,16-0,19</div>
<div class="c " style="transform:translate(994.90px,480.89px) rotate(0.05deg);width:84.12px;height:16.25px;text-align:center;">0,19-0,21</div>
<div class="c " style="transform:translate(1079.02px,480.89px) rotate(0.05deg);width:84.12px;height:16.25px;text-align:center;">0,21-0,23</div>
<div class="c " style="transform:translate(1163.14px,480.89px) rotate(0.05deg);width:84.12px;height:16.25px;text-align:center;">0,23-0,26</div>
<div class="c " style="transform:translate(1247.26px,480.89px) rotate(0.05deg);width:84.12px;height:16.25px;text-align:center;">0,26-0,3</div>
<div class="c " style="transform:translate(88.52px,188.48px) rotate(0.05deg);width:80.62px;height:16.25px;text-align:left;">Нелегированная сталь</div>
<div class="c " style="transform:translate(88.52px,253.46px) rotate(0.05deg);width:80.62px;height:16.25px;text-align:left;">Низколегированная сталь</div>
<div class="c " style="transform:translate(88.52px,302.19px) rotate(0.05deg);width:80.62px;height:16.25px;text-align:left;">Высоколегированная сталь</div>
<div class="c " style="transform:translate(88.52px,334.68px) rotate(0.05deg);width:80.62px;height:16.25px;text-align:left;">Нержавеющая сталь</div>
<div class="c " style="transform:translate(88.52px,383.42px) rotate(0.05deg);width:80.62px;height:16.25px;text-align:left;">Нержавеющая сталь</div>
<div class="c " style="transform:translate(88.52px,415.91px) rotate(0.05deg);width:80.62px;height:16.25px;text-align:left;">Ковкий литейный чугун</div>
<div class="c " style="transform:translate(88.52px,448.40px) rotate(0.05deg);width:80.62px;height:16.25px;text-align:left;">Серый чугун</div>
<div class="c " style="transform:translate(88.52px,480.89px) rotate(0.05deg);width:80.62px;height:16.25px;text-align:left;">Высокопрочный чугун</div>
<div class="c " style="transform:translate(2.20px,334.68px) rotate(0.05deg);width:84.12px;height:16.25px;text-align:center;">P</div>
<div class="c " style="transform:translate(2.20px,383.42px) rotate(0.05deg);width:84.12px;height:16.25px;text-align:center;">M</div>
<div class="c " style="transform:translate(2.20px,480.89px) rotate(0.05deg);width:84.12px;height:16.25px;text-align:center;">K</div>
<div class="c " style="transform:translate(85.52px,90.61px) rotate(0.05deg);width:320.54px;height:16.25px;text-align:center;">Основные группы материалов</div>
<div class="c b" style="transform:translate(658.42px,90.61px) rotate(0.05deg);width:84.12px;height:16.25px;text-align:center;">ø2,5-ø4</div>
<div class="c b" style="transform:translate(742.54px,90.61px) rotate(0.05deg);width:84.12px;height:16.25px;text-align:center;">ø4-ø5</div>
<div class="c b" style="transform:translate(826.66px,90.61px) rotate(0.05deg);width:84.12px;height:16.25px;text-align:center;">ø5-ø6</div>
<div class="c b" style="transform:translate(910.78px,90.61px) rotate(0.05deg);width:84.12px;height:16.25px;text-align:center;">ø6-ø8</div>
<div class="c b" style="transform:translate(994.90px,90.61px) rotate(0.05deg);width:84.12px;height:16.25px;text-align:center;">ø8-ø10</div>
<div class="c b" style="transform:translate(1079.02px,90.61px) rotate(0.05deg);width:84.12px;height:16.25px;text-align:center;">ø10-ø12</div>
<div class="c b" style="transform:translate(1163.14px,90.61px) rotate(0.05deg);width:84.12px;height:16.25px;text-align:center;">ø12-ø15</div>
<div class="c b" style="transform:translate(1247.26px,90.61px) rotate(0.05deg);width:84.12px;height:16.25px;text-align:center;">ø15-ø20</div>
<div class="rot" style="left:27.46px;top:103.75px;"><div class="rl">Группа</div><div class="rl"><span class="sm2">материалов</span></div></div>
<div class="rot" style="left:431.12px;top:103.75px;"><div class="rl">Твердость по</div><div class="rl"><span style="letter-spacing:0.12px">Бринеллю HB</span></div></div>
<div class="rot" style="left:507.74px;top:103.75px;"><div class="rl"><span style="letter-spacing:0.35px">Предел</span></div><div class="rl">прочности Rm,</div><div class="rl"><span class="sm">Н/мм2</span></div></div>
<div class="rot" style="left:591.86px;top:103.75px;"><div class="rl"><span style="letter-spacing:0.12px">Скорость</span></div><div class="rl">резания Vc,</div><div class="rl"><span class="sm" style="letter-spacing:-0.1px">м/мин</span></div></div>
</body></html>
